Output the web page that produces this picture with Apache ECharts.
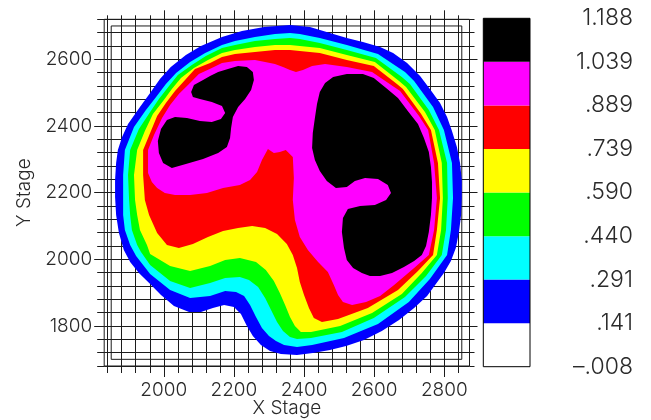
<!DOCTYPE html>
<html>
<head>
<meta charset="utf-8">
<script src="https://cdn.jsdelivr.net/npm/echarts@6/dist/echarts.min.js"></script>
<style>html,body{margin:0;padding:0;background:#fff}#c{width:651px;height:420px}</style>
</head>
<body>
<div id="c"></div>
<script>
// ---- colour levels (legend) ----
const levelColors = ['#ffffff', '#0000ff', '#00ffff', '#00ff00', '#ffff00', '#ff0000', '#ff00ff', '#000000'];
const thresholds = [-0.008, 0.141, 0.291, 0.440, 0.590, 0.739, 0.889, 1.039, 1.188];
const thresholdLabels = ['\u2013.008', '.141', '.291', '.440', '.590', '.739', '.889', '1.039', '1.188'];

// ---- axis ticks ----
const xMajorTicks = [2000, 2200, 2400, 2600, 2800];
const yMajorTicks = [1800, 2000, 2200, 2400, 2600];
const frameBox = [1850, 1700, 2850, 2700];

// ---- contour regions (X Stage, Y Stage), each = area at or above a level ----
const blueRegion = [[2360,2703],[2417,2697],[2474,2679],[2522,2664],[2568,2652],[2617,2637],[2654,2619],[2694,2589],[2731,2550],[2759,2511],[2788,2469],[2808,2427],[2822,2385],[2836,2337],[2845,2289],[2850,2238],[2850,2184],[2848,2133],[2842,2082],[2833,2034],[2819,1995],[2799,1959],[2776,1926],[2751,1890],[2714,1854],[2671,1818],[2622,1785],[2571,1758],[2520,1740],[2474,1728],[2425,1719],[2380,1713],[2334,1716],[2303,1725],[2277,1743],[2254,1770],[2237,1800],[2220,1836],[2200,1857],[2172,1863],[2140,1854],[2106,1842],[2072,1842],[2029,1860],[1992,1893],[1961,1926],[1929,1959],[1904,1992],[1886,2028],[1872,2079],[1864,2133],[1861,2187],[1861,2238],[1864,2289],[1869,2328],[1881,2367],[1898,2406],[1932,2457],[1961,2499],[1989,2541],[2020,2577],[2063,2613],[2106,2640],[2166,2667],[2223,2685],[2286,2697]];

const cyanRegion = [[2360,2679],[2388,2676],[2445,2664],[2522,2643],[2611,2616],[2688,2562],[2714,2535],[2768,2457],[2799,2388],[2822,2289],[2825,2184],[2819,2088],[2808,2013],[2759,1941],[2699,1872],[2611,1806],[2514,1764],[2423,1743],[2380,1737],[2343,1743],[2320,1755],[2300,1770],[2280,1794],[2263,1827],[2246,1863],[2229,1890],[2206,1902],[2175,1905],[2132,1890],[2075,1884],[2018,1908],[1961,1956],[1921,2010],[1904,2043],[1889,2088],[1884,2133],[1884,2178],[1884,2253],[1889,2328],[1915,2397],[1949,2448],[1978,2487],[2006,2526],[2035,2559],[2075,2592],[2118,2619],[2166,2643],[2203,2655],[2260,2667],[2317,2676]];

const greenRegion = [[2360,2664],[2388,2661],[2445,2649],[2522,2628],[2605,2604],[2679,2547],[2702,2526],[2756,2448],[2785,2388],[2808,2289],[2810,2184],[2805,2088],[2793,2013],[2748,1950],[2688,1887],[2599,1824],[2508,1782],[2420,1764],[2380,1761],[2360,1767],[2340,1785],[2323,1812],[2306,1848],[2289,1884],[2269,1917],[2243,1938],[2217,1947],[2175,1944],[2132,1929],[2075,1914],[2018,1935],[1961,1983],[1935,2022],[1924,2043],[1909,2088],[1904,2133],[1901,2178],[1898,2253],[1904,2328],[1929,2391],[1961,2442],[1986,2481],[2015,2520],[2040,2553],[2080,2583],[2120,2610],[2166,2634],[2203,2643],[2260,2655],[2317,2661]];

const yellowRegion = [[2360,2643],[2388,2640],[2445,2634],[2522,2613],[2602,2592],[2671,2535],[2691,2517],[2745,2442],[2773,2388],[2793,2289],[2796,2184],[2791,2088],[2779,2013],[2736,1959],[2679,1896],[2594,1839],[2503,1800],[2420,1782],[2391,1782],[2374,1800],[2360,1827],[2346,1863],[2331,1899],[2314,1935],[2291,1968],[2263,1992],[2217,2004],[2175,1998],[2132,1980],[2075,1965],[2018,1980],[1961,2016],[1952,2043],[1932,2088],[1924,2133],[1918,2178],[1915,2253],[1924,2328],[1946,2385],[1969,2436],[1998,2475],[2023,2511],[2049,2544],[2086,2574],[2126,2598],[2166,2619],[2203,2628],[2260,2637],[2317,2643]];

const redRegion = [[2360,2628],[2388,2625],[2445,2619],[2522,2598],[2599,2580],[2665,2526],[2682,2511],[2734,2436],[2762,2388],[2782,2289],[2788,2184],[2779,2088],[2768,2013],[2725,1965],[2668,1908],[2582,1854],[2497,1821],[2451,1812],[2428,1824],[2414,1854],[2400,1893],[2388,1932],[2380,1974],[2368,2013],[2351,2046],[2323,2076],[2289,2094],[2252,2100],[2212,2094],[2169,2085],[2126,2067],[2083,2046],[2043,2034],[2009,2043],[1981,2079],[1958,2133],[1946,2178],[1941,2253],[1941,2328],[1961,2379],[1981,2430],[2006,2469],[2032,2505],[2058,2535],[2089,2571],[2132,2589],[2166,2607],[2203,2616],[2260,2622],[2317,2628]];

const magentaRegion = [[2360,2568],[2377,2562],[2397,2568],[2423,2580],[2460,2586],[2522,2577],[2594,2562],[2657,2517],[2674,2505],[2728,2430],[2754,2388],[2771,2289],[2779,2184],[2771,2088],[2756,2013],[2714,1974],[2657,1923],[2617,1890],[2577,1872],[2537,1863],[2511,1872],[2497,1893],[2485,1923],[2468,1962],[2440,1992],[2411,2028],[2388,2067],[2374,2118],[2368,2178],[2371,2244],[2368,2307],[2348,2328],[2331,2322],[2314,2319],[2297,2331],[2280,2298],[2266,2262],[2246,2238],[2217,2223],[2169,2214],[2123,2199],[2075,2193],[2032,2193],[2003,2199],[1981,2214],[1966,2232],[1955,2259],[1955,2298],[1955,2328],[1972,2373],[1995,2424],[2018,2463],[2043,2496],[2069,2523],[2100,2556],[2137,2574],[2166,2589],[2203,2595],[2260,2598],[2289,2592],[2317,2586],[2340,2577]];

const blackLeftRegion = [[2078,2502],[2086,2523],[2112,2538],[2132,2550],[2155,2562],[2183,2571],[2212,2580],[2237,2577],[2254,2562],[2257,2538],[2249,2508],[2232,2481],[2212,2457],[2197,2427],[2192,2394],[2189,2364],[2180,2337],[2155,2319],[2112,2301],[2063,2286],[2023,2274],[1998,2289],[1986,2319],[1983,2355],[1992,2391],[2009,2418],[2032,2427],[2066,2424],[2103,2415],[2137,2412],[2163,2421],[2175,2439],[2166,2460],[2137,2472],[2103,2481],[2083,2487]];

const blackRightRegion = [[2437,2466],[2445,2502],[2460,2529],[2483,2547],[2522,2556],[2568,2556],[2599,2544],[2634,2514],[2668,2484],[2696,2445],[2725,2406],[2742,2364],[2756,2322],[2762,2277],[2765,2232],[2765,2184],[2762,2133],[2756,2082],[2748,2040],[2736,2013],[2714,1995],[2685,1977],[2651,1959],[2617,1950],[2588,1950],[2565,1959],[2540,1974],[2522,1998],[2514,2034],[2508,2082],[2511,2124],[2525,2151],[2560,2160],[2602,2163],[2634,2178],[2648,2199],[2639,2223],[2611,2241],[2574,2244],[2545,2235],[2522,2217],[2491,2214],[2465,2235],[2445,2265],[2431,2298],[2423,2334],[2425,2379],[2431,2424]];

const regions = [
  { level: 1, pts: blueRegion },
  { level: 2, pts: cyanRegion },
  { level: 3, pts: greenRegion },
  { level: 4, pts: yellowRegion },
  { level: 5, pts: redRegion },
  { level: 6, pts: magentaRegion },
  { level: 7, pts: blackLeftRegion },
  { level: 7, pts: blackRightRegion }
];

const gridColor = '#1c1c1c';
const textColor = '#2a2a2a';
const fontFamily = 'Inter, "DejaVu Sans", sans-serif';
const labelStyle = { fontFamily: fontFamily, fontSize: 19, fontWeight: 300, color: textColor };
const plainNumber = function (v) { return String(v); };

const chart = echarts.init(document.getElementById('c'), null, { renderer: 'canvas' });

const hiddenLine = { show: false, onZero: false };

const option = {
  animation: false,
  backgroundColor: '#ffffff',
  grid: [
    { left: 104.2, top: 19.3, width: 365.3, height: 346.7, show: true, borderColor: gridColor, borderWidth: 1, backgroundColor: 'transparent', containLabel: false, outerBoundsMode: 'none' },
    { left: 107.7, top: 19.3, width: 350.6, height: 346.7, containLabel: false, outerBoundsMode: 'none' },
    { left: 483.3, top: 18.3, width: 46.7, height: 348.4, containLabel: false, outerBoundsMode: 'none' }
  ],
  xAxis: [
    { gridIndex: 0, type: 'value', min: 1830, max: 2872, axisLine: hiddenLine, axisTick: { show: false }, axisLabel: { show: false }, splitLine: { show: false },
      name: 'X Stage', nameLocation: 'middle', nameGap: 33, nameTextStyle: labelStyle },
    { gridIndex: 1, type: 'value', min: 1840, max: 2840, interval: 40, position: 'bottom', axisLine: hiddenLine,
      axisTick: { show: true, length: 7, lineStyle: { color: gridColor, width: 1 } }, axisLabel: { show: false },
      splitLine: { show: true, lineStyle: { color: gridColor, width: 1 } } },
    { gridIndex: 1, type: 'value', min: 1840, max: 2840, interval: 40, position: 'top', axisLine: hiddenLine,
      axisTick: { show: true, length: 4, lineStyle: { color: gridColor, width: 1 } }, axisLabel: { show: false }, splitLine: { show: false } },
    { gridIndex: 1, type: 'value', min: 1840, max: 2840, position: 'bottom', axisLine: hiddenLine,
      axisTick: { show: true, length: 11, customValues: xMajorTicks, lineStyle: { color: gridColor, width: 1 } },
      axisLabel: Object.assign({ show: true, customValues: xMajorTicks, margin: 15, formatter: plainNumber }, labelStyle), splitLine: { show: false } },
    { gridIndex: 1, type: 'value', min: 1840, max: 2840, position: 'top', axisLine: hiddenLine,
      axisTick: { show: true, length: 9, customValues: xMajorTicks, lineStyle: { color: gridColor, width: 1 } },
      axisLabel: { show: false }, splitLine: { show: false } },
    { gridIndex: 2, type: 'value', min: 0, max: 1, show: false, axisLine: hiddenLine }
  ],
  yAxis: [
    { gridIndex: 0, type: 'value', min: 1680, max: 2720, interval: 40, position: 'left', axisLine: hiddenLine,
      axisTick: { show: true, length: 7, lineStyle: { color: gridColor, width: 1 } }, axisLabel: { show: false },
      splitLine: { show: true, lineStyle: { color: gridColor, width: 1 } },
      name: 'Y Stage', nameLocation: 'middle', nameGap: 70, nameRotate: 90, nameTextStyle: labelStyle },
    { gridIndex: 0, type: 'value', min: 1680, max: 2720, interval: 40, position: 'right', axisLine: hiddenLine,
      axisTick: { show: true, length: 5, lineStyle: { color: gridColor, width: 1 } }, axisLabel: { show: false }, splitLine: { show: false } },
    { gridIndex: 0, type: 'value', min: 1680, max: 2720, position: 'left', axisLine: hiddenLine,
      axisTick: { show: true, length: 10, customValues: yMajorTicks, lineStyle: { color: gridColor, width: 1 } },
      axisLabel: Object.assign({ show: true, customValues: yMajorTicks, margin: 12, formatter: plainNumber }, labelStyle), splitLine: { show: false } },
    { gridIndex: 0, type: 'value', min: 1680, max: 2720, position: 'right', axisLine: hiddenLine,
      axisTick: { show: true, length: 8, customValues: yMajorTicks, lineStyle: { color: gridColor, width: 1 } },
      axisLabel: { show: false }, splitLine: { show: false } },
    { gridIndex: 1, type: 'value', min: 1680, max: 2720, show: false, axisLine: hiddenLine },
    { gridIndex: 2, type: 'value', min: thresholds[0], max: thresholds[thresholds.length - 1], position: 'right', axisLine: hiddenLine,
      axisTick: { show: false }, splitLine: { show: false },
      axisLabel: { show: true, customValues: thresholds, margin: 103, align: 'right', fontFamily: fontFamily, fontSize: 23, fontWeight: 300, color: textColor,
        formatter: function (v) { const i = thresholds.indexOf(v); return i >= 0 ? thresholdLabels[i] : ''; } } }
  ],
  series: [
    { type: 'custom', xAxisIndex: 0, yAxisIndex: 0, silent: true, z: 2, data: [frameBox],
      renderItem: function (params, api) {
        const p0 = api.coord([api.value(0), api.value(1)]);
        const p1 = api.coord([api.value(2), api.value(3)]);
        return { type: 'rect', shape: { x: Math.min(p0[0], p1[0]), y: Math.min(p0[1], p1[1]), width: Math.abs(p1[0] - p0[0]), height: Math.abs(p1[1] - p0[1]) },
          style: { fill: 'none', stroke: gridColor, lineWidth: 1 } };
      } },
    { type: 'custom', xAxisIndex: 0, yAxisIndex: 0, silent: true, z: 3,
      data: regions.map(function (r, i) { return [r.pts[0][0], r.pts[0][1], i]; }),
      renderItem: function (params, api) {
        const r = regions[api.value(2)];
        return { type: 'polygon', shape: { points: r.pts.map(function (p) { return api.coord(p); }) },
          style: { fill: levelColors[r.level], stroke: null } };
      } },
    { type: 'custom', xAxisIndex: 5, yAxisIndex: 5, silent: true, z: 3,
      data: levelColors.map(function (c, i) { return [0, thresholds[i], 1, thresholds[i + 1], i]; }),
      renderItem: function (params, api) {
        const p0 = api.coord([api.value(0), api.value(1)]);
        const p1 = api.coord([api.value(2), api.value(3)]);
        return { type: 'rect', shape: { x: p0[0], y: p1[1], width: p1[0] - p0[0], height: p0[1] - p1[1] },
          style: { fill: levelColors[api.value(4)] } };
      } },
    { type: 'custom', xAxisIndex: 5, yAxisIndex: 5, silent: true, z: 4,
      data: [[0, thresholds[0], 1, thresholds[thresholds.length - 1]]],
      renderItem: function (params, api) {
        const p0 = api.coord([api.value(0), api.value(1)]);
        const p1 = api.coord([api.value(2), api.value(3)]);
        return { type: 'rect', shape: { x: p0[0], y: p1[1], width: p1[0] - p0[0], height: p0[1] - p1[1] },
          style: { fill: 'none', stroke: '#000', lineWidth: 1 } };
      } }
  ]
};
chart.setOption(option);
</script>
</body>
</html>
